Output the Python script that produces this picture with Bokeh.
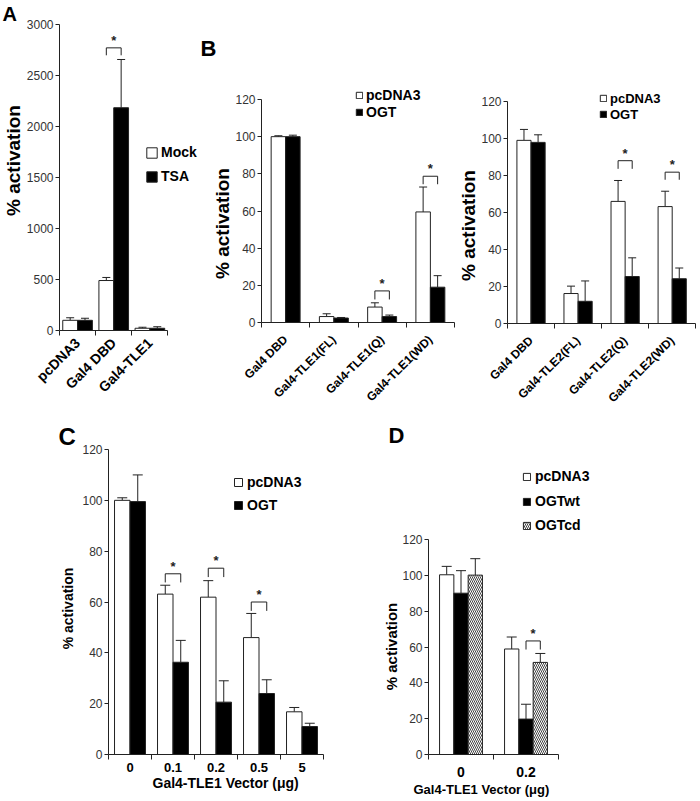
import math
from bokeh.plotting import figure
from bokeh.models import (Range1d, FixedTicker, LinearAxis, Whisker, TeeHead,
                          ColumnDataSource, Legend, LegendItem, Title, Plot)
from bokeh.layouts import row, column
from bokeh.core.properties import value
from bokeh.embed import file_html
from bokeh.resources import INLINE

FONT = "Liberation Sans"
INK = "#222222"
TICK_TXT = "#333333"

# ---------------- data ----------------
# Panel A
a_categories = ["pcDNA3", "Gal4 DBD", "Gal4-TLE1"]
a_series = ["Mock", "TSA"]
a_mock = [100, 490, 22]
a_mock_err = [25, 30, 10]
a_tsa = [100, 2184, 22]
a_tsa_err = [20, 473, 15]
a_ticks = [0, 500, 1000, 1500, 2000, 2500, 3000]
a_sig_groups = [1]
a_sig_top = [2771]
a_sig_leg = [2698]

# Panel B, TLE1
b_series = ["pcDNA3", "OGT"]
b1_categories = ["Gal4 DBD", "Gal4-TLE1(FL)", "Gal4-TLE1(Q)", "Gal4-TLE1(WD)"]
b1_pcdna3 = [100, 3.2, 8.3, 59.5]
b1_pcdna3_err = [0.5, 1.5, 2.3, 13.4]
b1_ogt = [100, 2.4, 3.2, 19]
b1_ogt_err = [0.8, 0.3, 0.8, 6.2]
b1_sig_groups = [2, 3]
b1_sig_top = [17, 78.7]
b1_sig_leg = [12.4, 74.4]

# Panel B, TLE2
b2_categories = ["Gal4 DBD", "Gal4-TLE2(FL)", "Gal4-TLE2(Q)", "Gal4-TLE2(WD)"]
b2_pcdna3 = [99, 16.2, 66, 63.2]
b2_pcdna3_err = [5.9, 4, 11.3, 8.3]
b2_ogt = [97.9, 12, 25.4, 24.2]
b2_ogt_err = [4.1, 11, 10.1, 5.8]
b2_sig_groups = [2, 3]
b2_sig_top = [88, 81.8]
b2_sig_leg = [83.6, 77.7]

pct_ticks = [0, 20, 40, 60, 80, 100, 120]

# Panel C
c_categories = ["0", "0.1", "0.2", "0.5", "5"]
c_series = ["pcDNA3", "OGT"]
c_pcdna3 = [100, 63.1, 61.9, 46, 16.8]
c_pcdna3_err = [1, 3.5, 6.5, 9.5, 1.7]
c_ogt = [99.5, 36.3, 20.6, 24, 11]
c_ogt_err = [10.5, 8.6, 8.4, 5.4, 1.3]
c_sig_groups = [1, 2, 3]
c_sig_top = [71.1, 73.3, 60]
c_sig_leg = [67.7, 69.8, 56.5]

# Panel D
d_categories = ["0", "0.2"]
d_series = ["pcDNA3", "OGTwt", "OGTcd"]
d_pcdna3 = [100.5, 59]
d_pcdna3_err = [4.7, 6.7]
d_ogtwt = [90.2, 19.8]
d_ogtwt_err = [12.6, 8.3]
d_ogtcd = [100.3, 51.5]
d_ogtcd_err = [9.2, 5]
d_sig_groups = [1]
d_sig_top = [63.5]
d_sig_leg = [58.7]

y_title = "% activation"
x_title = "Gal4-TLE1 Vector (μg)"

# ---------------- styles ----------------
WHITE = dict(fill_color="white")
BLACK = dict(fill_color="black")
HATCH = dict(fill_color="white", hatch_pattern="\\", hatch_scale=4,
             hatch_color="#444444", hatch_weight=1)
HAS_FRAME_ALIGN = "frame_align" in Plot.properties()
EM_Y_TITLE = 5.835  # width of "% activation" in em (bold Arial metrics)


def make_panel(box, frame, axis_right, top_tick_px, categories, ticks,
               values, errors, styles, bar_w, cap, sig_groups, sig_top, sig_leg,
               sig_pair, xfont, xrot, xstandoff, ylab_px, ylab_center, ylab_standoff,
               xlabel=None, xlab_font="14px", xlab_left=0, xlab_standoff=0):
    fx, fy, width, height = box
    fl, ft, fr, fb = frame
    n = len(categories)
    x_end = n * (fr - fl) / (axis_right - fl)
    y_end = ticks[-1] * (fb - ft) / (fb - top_tick_px)
    p = figure(width=width, height=height, output_backend="svg",
               toolbar_location=None, x_range=Range1d(0, x_end),
               y_range=Range1d(0, y_end), x_axis_type=None, y_axis_type=None,
               min_border_left=fl - fx, min_border_right=fx + width - fr,
               min_border_top=ft - fy, min_border_bottom=fy + height - fb)
    if HAS_FRAME_ALIGN:
        p.frame_align = False
    p.outline_line_color = None
    p.background_fill_color = "white"
    p.border_fill_color = "white"

    centers = [i + 0.5 for i in range(n)]
    yax = LinearAxis(ticker=FixedTicker(ticks=ticks, minor_ticks=[]),
                     bounds=(0, ticks[-1]),
                     axis_line_color=INK, major_tick_line_color=INK,
                     major_tick_out=4, major_tick_in=0,
                     minor_tick_out=0, minor_tick_in=0,
                     major_label_standoff=2,
                     major_label_text_font=FONT,
                     major_label_text_font_size="12px",
                     major_label_text_color=TICK_TXT)
    p.add_layout(yax, "left")
    # vertical axis title, placed along the axis with an offset from the frame bottom
    text_len = EM_Y_TITLE * ylab_px
    p.add_layout(Title(text=y_title, align="left",
                       offset=(fb - ylab_center) - text_len / 2,
                       standoff=ylab_standoff, vertical_align="bottom",
                       text_font=FONT, text_font_size=f"{ylab_px}px",
                       text_font_style="bold", text_color="black"), "left")

    xax = LinearAxis(ticker=FixedTicker(ticks=centers, minor_ticks=list(range(n + 1))),
                     bounds=(0, n),
                     major_label_overrides={c: lab for c, lab in zip(centers, categories)},
                     axis_line_color=INK, major_tick_line_color=None,
                     major_tick_out=0, major_tick_in=0,
                     minor_tick_line_color=INK, minor_tick_out=5, minor_tick_in=0,
                     major_label_standoff=xstandoff,
                     major_label_orientation=xrot,
                     major_label_text_font=FONT,
                     major_label_text_font_size=xfont,
                     major_label_text_font_style="bold",
                     major_label_text_color="black")
    p.add_layout(xax, "below")
    if xlabel is not None:
        p.add_layout(Title(text=xlabel, align="left", offset=xlab_left - fl,
                           standoff=xlab_standoff, vertical_align="top",
                           text_font=FONT, text_font_size=xlab_font,
                           text_font_style="bold", text_color="black"), "below")

    k = len(values)
    renderers, xs_all = [], []
    for s in range(k):
        xs = [c + (s - (k - 1) / 2) * bar_w for c in centers]
        xs_all.append(xs)
        src = ColumnDataSource(dict(
            x=xs, top=values[s],
            upper=[v + e for v, e in zip(values[s], errors[s])]))
        r = p.vbar(x="x", top="top", width=bar_w, source=src,
                   line_color=INK, line_width=1, **styles[s])
        p.add_layout(Whisker(source=src, base="x", lower="top", upper="upper",
                             line_color=INK, line_width=1,
                             upper_head=TeeHead(size=cap, line_color=INK, line_width=1),
                             lower_head=None))
        renderers.append(r)

    s1, s2 = sig_pair
    bx = [[xs_all[s1][g], xs_all[s1][g], xs_all[s2][g], xs_all[s2][g]] for g in sig_groups]
    by = [[lo, hi, hi, lo] for hi, lo in zip(sig_top, sig_leg)]
    p.multi_line(xs=bx, ys=by, line_color=INK, line_width=1)
    p.text(x=[(xs_all[s1][g] + xs_all[s2][g]) / 2 for g in sig_groups], y=sig_top,
           text=["*"] * len(sig_groups), text_align="center", text_baseline="bottom",
           text_font=value(FONT), text_font_size="13px", text_font_style="bold",
           text_color=INK)
    return p, renderers


def add_legend(p, frame, renderer, label, sq_left, cy, glyph, font, standoff=4):
    fl, ft, fr, fb = frame
    lg = Legend(items=[LegendItem(label=label, renderers=[renderer])],
                location=(sq_left - fl, fb - cy - 10), glyph_width=glyph,
                glyph_height=glyph, label_standoff=standoff, label_height=20,
                label_text_font=FONT, label_text_font_size=font,
                label_text_font_style="bold", label_text_color="black",
                padding=0, margin=0, spacing=0,
                border_line_alpha=0, background_fill_alpha=0)
    p.add_layout(lg)


def add_letter(p, frame, text, x, size):
    fl = frame[0]
    p.add_layout(Title(text=text, align="left", offset=x - fl, standoff=0,
                       text_font=FONT, text_font_size=size, text_font_style="bold",
                       text_color="black", vertical_align="bottom"), "above")


ROT = math.pi / 4

# ---- Panel A ----  (box: x, y, width, height; frame: left, top, right, bottom)
A_BOX, A_FR = (0, 0, 200, 420), (57, 23, 200, 330)
pa, ra = make_panel(A_BOX, A_FR, 167, 23, a_categories, a_ticks,
                    [a_mock, a_tsa], [a_mock_err, a_tsa_err], [WHITE, BLACK],
                    0.41, 8, a_sig_groups, a_sig_top, a_sig_leg, (0, 1),
                    "14px", ROT, 5, 19, 160, 0)
add_legend(pa, A_FR, ra[0], a_series[0], 143, 152, 13, "14px", 3)
add_legend(pa, A_FR, ra[1], a_series[1], 143, 176, 13, "14px", 3)
add_letter(pa, A_FR, "A", 0, "20px")

# ---- Panel B left ----
B1_BOX, B1_FR = (200, 0, 255, 420), (261, 60, 455, 322)
pb1, rb1 = make_panel(B1_BOX, B1_FR, 454, 99, b1_categories, pct_ticks,
                      [b1_pcdna3, b1_ogt], [b1_pcdna3_err, b1_ogt_err],
                      [WHITE, BLACK], 0.30, 8, b1_sig_groups, b1_sig_top,
                      b1_sig_leg, (0, 1), "12px", ROT, 10, 19, 223, 0)
add_legend(pb1, B1_FR, rb1[0], b_series[0], 355, 95, 8, "14px", 3)
add_legend(pb1, B1_FR, rb1[1], b_series[1], 355, 112, 8, "14px", 3)
add_letter(pb1, B1_FR, "B", 200, "22px")

# ---- Panel B right ----
B2_BOX, B2_FR = (455, 0, 245, 420), (498, 0, 700, 323)
pb2, rb2 = make_panel(B2_BOX, B2_FR, 695, 101, b2_categories, pct_ticks,
                      [b2_pcdna3, b2_ogt], [b2_pcdna3_err, b2_ogt_err],
                      [WHITE, BLACK], 0.30, 8, b2_sig_groups, b2_sig_top,
                      b2_sig_leg, (0, 1), "12px", ROT, 10, 19, 225, 0)
add_legend(pb2, B2_FR, rb2[0], b_series[0], 590, 98, 8, "13px", 3)
add_legend(pb2, B2_FR, rb2[1], b_series[1], 590, 114, 8, "13px", 3)

# ---- Panel C ----
C_BOX, C_FR = (0, 420, 330, 380), (108, 448, 330, 754)
pc, rc = make_panel(C_BOX, C_FR, 323, 448, c_categories, pct_ticks,
                    [c_pcdna3, c_ogt], [c_pcdna3_err, c_ogt_err], [WHITE, BLACK],
                    0.36, 10, c_sig_groups, c_sig_top, c_sig_leg, (0, 1),
                    "13px", "horizontal", 3, 14, 608, 7,
                    xlabel=x_title, xlab_font="14px", xlab_left=152, xlab_standoff=0)
add_legend(pc, C_FR, rc[0], c_series[0], 233, 482, 10, "14px")
add_legend(pc, C_FR, rc[1], c_series[1], 233, 505, 10, "14px")
add_letter(pc, C_FR, "C", 58, "24px")

# ---- Panel D ----
D_BOX, D_FR = (330, 420, 370, 380), (428, 446, 700, 755)
pd_, rd = make_panel(D_BOX, D_FR, 558, 539, d_categories, pct_ticks,
                     [d_pcdna3, d_ogtwt, d_ogtcd],
                     [d_pcdna3_err, d_ogtwt_err, d_ogtcd_err],
                     [WHITE, BLACK, HATCH], 0.22, 10, d_sig_groups, d_sig_top,
                     d_sig_leg, (1, 2), "14px", "horizontal", 7, 15, 647, 0,
                     xlabel=x_title, xlab_font="13px", xlab_left=413, xlab_standoff=4)
add_legend(pd_, D_FR, rd[0], d_series[0], 522, 477, 9, "14px")
add_legend(pd_, D_FR, rd[1], d_series[1], 522, 502, 9, "14px")
add_legend(pd_, D_FR, rd[2], d_series[2], 522, 526, 9, "14px")
add_letter(pd_, D_FR, "D", 388, "22px")

layout = column(row(pa, pb1, pb2, spacing=0), row(pc, pd_, spacing=0), spacing=0)

with open("out.html", "w") as f:
    f.write(file_html(layout, INLINE))
